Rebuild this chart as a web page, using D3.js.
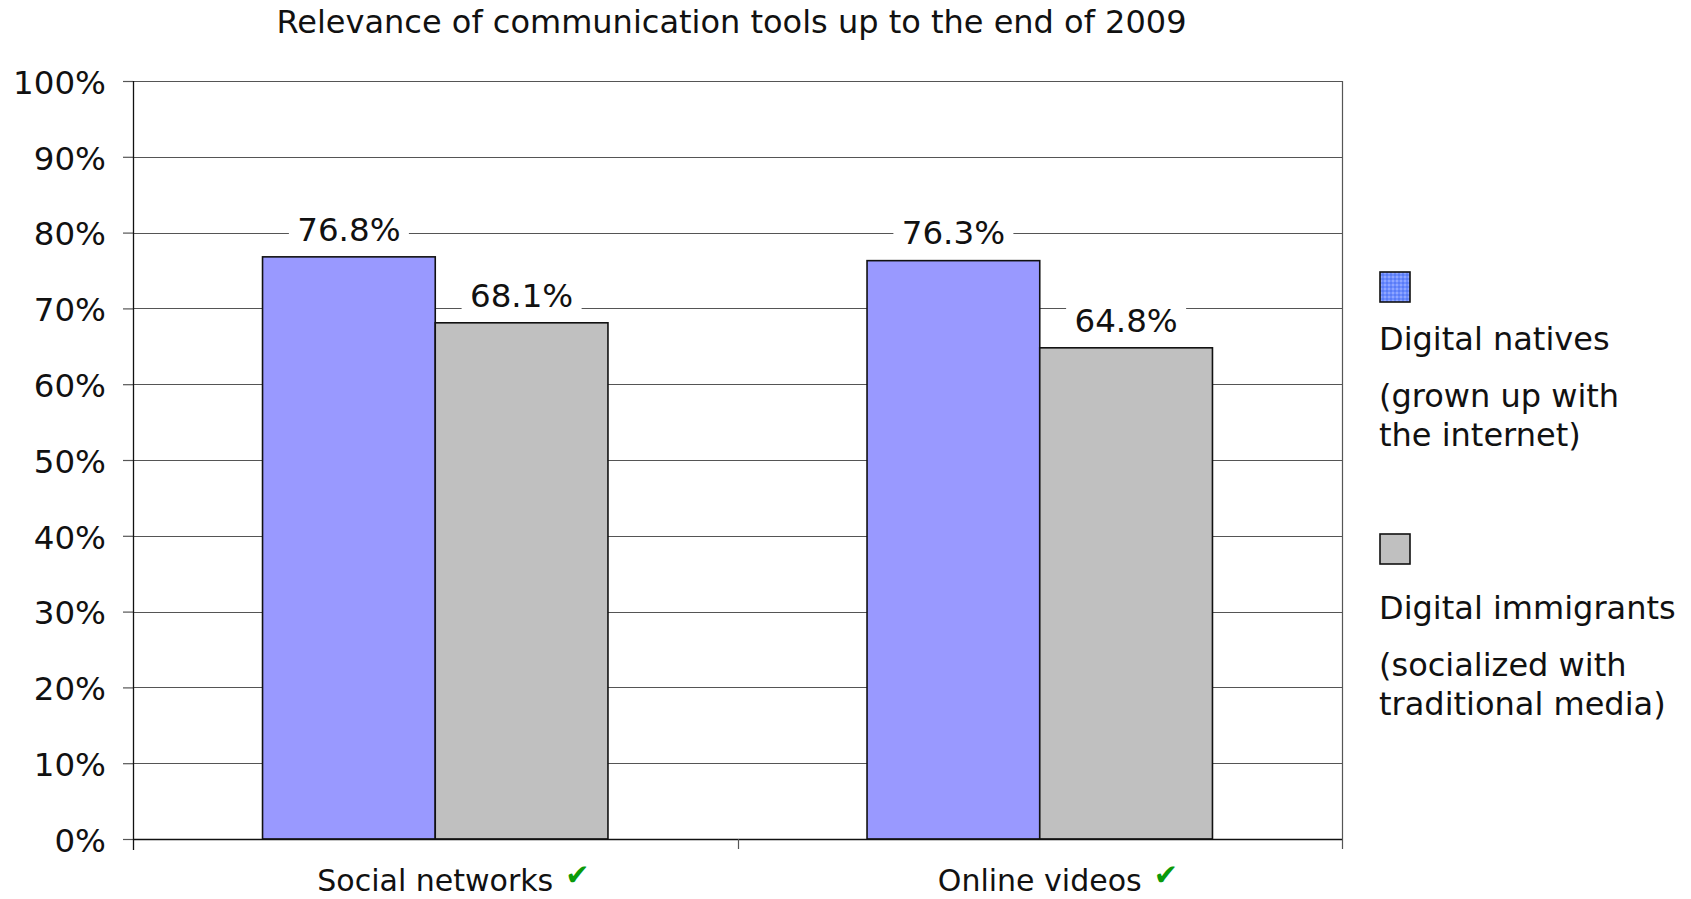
<!DOCTYPE html>
<html>
<head>
<meta charset="utf-8">
<script src="https://cdnjs.cloudflare.com/ajax/libs/d3/7.8.5/d3.min.js"></script>
<style>
  html, body { margin: 0; padding: 0; background: #fff; }
  svg { display: block; font-family: "DejaVu Sans", Verdana, sans-serif; }
</style>
</head>
<body>
<svg id="chart" width="1691" height="899"></svg>
<script>
// Relevance of communication tools, by generation
const categories = ["Social networks", "Online videos"];
const seriesNames = ["Digital natives", "Digital immigrants"];
const seriesSubtitles = [["(grown up with", "the internet)"], ["(socialized with", "traditional media)"]];
const nativesValues = [76.8, 76.3];
const immigrantsValues = [68.1, 64.8];
const yTicks = [0, 10, 20, 30, 40, 50, 60, 70, 80, 90, 100];
const titleText = "Relevance of communication tools up to the end of 2009";

const seriesValues = [nativesValues, immigrantsValues];
const barColors = ["#9999ff", "#c0c0c0"];

const svg = d3.select("#chart");
const plot = { left: 133, right: 1342, top: 81, bottom: 839 };

// swatch texture for the first legend entry
const defs = svg.append("defs");
const pat = defs.append("pattern").attr("id", "dither")
  .attr("width", 4).attr("height", 4).attr("patternUnits", "userSpaceOnUse");
pat.append("rect").attr("width", 4).attr("height", 4).attr("fill", "#6d8cff");
pat.append("rect").attr("x", 0).attr("y", 0).attr("width", 2).attr("height", 2).attr("fill", "#8fa6ff");
pat.append("rect").attr("x", 2).attr("y", 2).attr("width", 2).attr("height", 2).attr("fill", "#5a7cf5");

const y = d3.scaleLinear().domain([0, 100]).range([plot.bottom, plot.top]);
const x0 = d3.scaleBand().domain(categories).range([plot.left, plot.right]).padding(0);
const x1 = d3.scaleBand().domain(d3.range(seriesNames.length))
  .range([0, x0.bandwidth()]).paddingInner(0).paddingOuter(0.75);

// title
svg.append("text")
  .attr("x", (plot.left + plot.right) / 2 - 6)
  .attr("y", 33)
  .attr("text-anchor", "middle")
  .attr("font-size", 32)
  .attr("fill", "#111")
  .text(titleText);

// horizontal gridlines
svg.append("g").selectAll("line")
  .data(yTicks.filter(t => t > 0))
  .join("line")
  .attr("x1", plot.left).attr("x2", plot.right)
  .attr("y1", d => Math.round(y(d)) + 0.5).attr("y2", d => Math.round(y(d)) + 0.5)
  .attr("stroke", "#555").attr("stroke-width", 1.2);

// right frame edge
svg.append("line")
  .attr("x1", plot.right + 0.5).attr("x2", plot.right + 0.5)
  .attr("y1", y(100)).attr("y2", plot.bottom + 10)
  .attr("stroke", "#555").attr("stroke-width", 1.2);

// y axis
const yAxis = d3.axisLeft(y)
  .tickValues(yTicks)
  .tickFormat(d => d + "%")
  .tickSize(10)
  .tickPadding(17);
const gy = svg.append("g").attr("transform", `translate(${plot.left},0)`).call(yAxis);
gy.select(".domain").remove();
gy.selectAll(".tick line").attr("stroke", "#555").attr("stroke-width", 1.2);
gy.selectAll(".tick text")
  .attr("font-size", 32.5).attr("font-family", "DejaVu Sans, Verdana, sans-serif")
  .attr("fill", "#111").attr("dy", "0.38em");
svg.append("line")
  .attr("x1", plot.left + 0.5).attr("x2", plot.left + 0.5)
  .attr("y1", plot.top).attr("y2", plot.bottom + 11)
  .attr("stroke", "#111").attr("stroke-width", 1.3);

// bars
const groups = svg.append("g").selectAll("g")
  .data(categories)
  .join("g")
  .attr("transform", d => `translate(${x0(d)},0)`);

groups.selectAll("rect")
  .data((c, ci) => seriesValues.map((vals, si) => ({ si, v: vals[ci] })))
  .join("rect")
  .attr("x", d => x1(d.si))
  .attr("y", d => y(d.v))
  .attr("width", x1.bandwidth())
  .attr("height", d => y(0) - y(d.v))
  .attr("fill", d => barColors[d.si])
  .attr("stroke", "#111")
  .attr("stroke-width", 1.6);

// value labels with white backing
const labels = groups.selectAll("g.lbl")
  .data((c, ci) => seriesValues.map((vals, si) => ({ si, v: vals[ci] })))
  .join("g").attr("class", "lbl")
  .attr("transform", d => `translate(${x1(d.si) + x1.bandwidth() / 2},${y(d.v) - 28})`);
labels.append("rect")
  .attr("x", -60).attr("y", -19).attr("width", 120).attr("height", 38)
  .attr("fill", "#fff");
labels.append("text")
  .attr("text-anchor", "middle")
  .attr("dy", "0.36em")
  .attr("font-size", 32.5)
  .attr("fill", "#111")
  .text(d => d.v.toFixed(1) + "%");

// baseline and category ticks
svg.append("line")
  .attr("x1", plot.left).attr("x2", plot.right)
  .attr("y1", plot.bottom + 0.5).attr("y2", plot.bottom + 0.5)
  .attr("stroke", "#111").attr("stroke-width", 1.4);
const edges = categories.map(c => x0(c)).concat([plot.right]);
svg.append("g").selectAll("line")
  .data(edges.slice(1, -1))
  .join("line")
  .attr("x1", d => Math.round(d) + 0.5).attr("x2", d => Math.round(d) + 0.5)
  .attr("y1", plot.bottom).attr("y2", plot.bottom + 10)
  .attr("stroke", "#555").attr("stroke-width", 1.2);

// category labels with check marks
const cat = svg.append("g").selectAll("g")
  .data(categories)
  .join("g")
  .attr("transform", d => `translate(${x0(d) + x0.bandwidth() / 2},891)`);
cat.append("text")
  .attr("text-anchor", "middle")
  .attr("font-size", 30)
  .attr("fill", "#111")
  .text(d => d)
  .each(function () {
    const w = this.getComputedTextLength();
    d3.select(this.parentNode).append("text")
      .attr("x", w / 2 + 12)
      .attr("y", -6)
      .attr("font-size", 29)
      .attr("fill", "#0a9a0a")
      .text("\u2714");
  });

// legend
const legendX = 1380;
const legend = [
  { swatchY: 272, lines: [[seriesNames[0], 338], [seriesSubtitles[0][0], 395], [seriesSubtitles[0][1], 434]] },
  { swatchY: 534, lines: [[seriesNames[1], 607], [seriesSubtitles[1][0], 664], [seriesSubtitles[1][1], 703]] }
];
const lg = svg.append("g");
legend.forEach((item, i) => {
  lg.append("rect")
    .attr("x", legendX).attr("y", item.swatchY)
    .attr("width", 30).attr("height", 30)
    .attr("fill", i === 0 ? "url(#dither)" : barColors[1])
    .attr("stroke", "#111").attr("stroke-width", 1.6);
  item.lines.forEach(([t, cy]) => {
    lg.append("text")
      .attr("x", legendX - 1).attr("y", cy)
      .attr("dy", "0.36em")
      .attr("font-size", 32)
      .attr("fill", "#111")
      .text(t);
  });
});
</script>
</body>
</html>
